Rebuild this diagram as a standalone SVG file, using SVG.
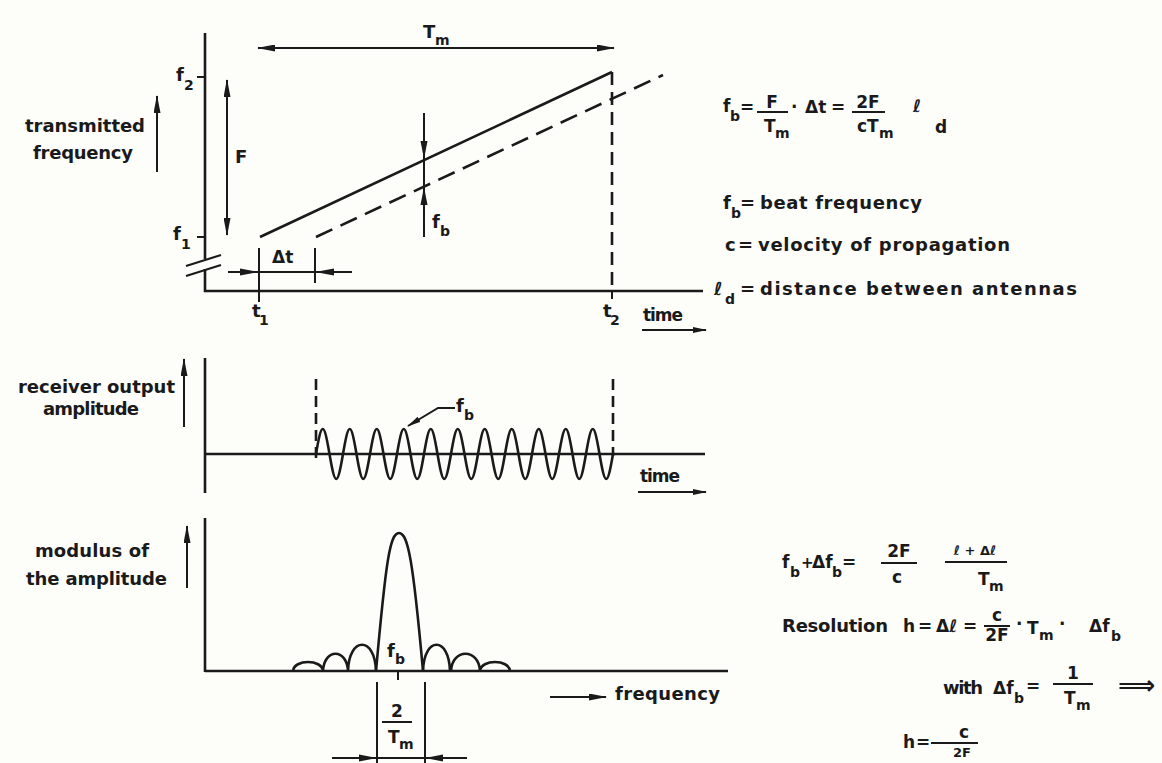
<svg xmlns="http://www.w3.org/2000/svg" width="1162" height="763" viewBox="0 0 1162 763">
<defs>
<style>
.t{font-family:"DejaVu Sans","Liberation Sans",sans-serif;font-weight:bold;font-size:18px;fill:#1a1a1a}
.f{font-family:"DejaVu Sans","Liberation Sans",sans-serif;font-weight:bold;font-size:17px;fill:#1a1a1a}
.s{font-family:"DejaVu Sans","Liberation Sans",sans-serif;font-weight:bold;font-size:14px;fill:#1a1a1a}
.ln{stroke:#1a1a1a;stroke-width:2.6;fill:none}
.th{stroke:#1a1a1a;stroke-width:2;fill:none}
.dash{stroke-dasharray:18 9}
.vd{stroke-dasharray:13 7}
.hd{fill:#1a1a1a;stroke:none}
</style>
<marker id="ah" viewBox="0 0 18 7" refX="17" refY="3.5" markerWidth="18" markerHeight="7" markerUnits="userSpaceOnUse" orient="auto-start-reverse"><path d="M0,0 L18,3.5 L0,7 z" fill="#1a1a1a"/></marker>
<marker id="as" viewBox="0 0 14 6" refX="13" refY="3" markerWidth="14" markerHeight="6" markerUnits="userSpaceOnUse" orient="auto"><path d="M0,0 L14,3 L0,6 z" fill="#1a1a1a"/></marker>
</defs>
<rect width="1162" height="763" fill="#fdfdfa"/>

<g id="plot-frequency">
<line class="ln" x1="205" y1="33" x2="205" y2="259"/>
<polyline class="ln" points="205,269 205,291 703,291"/>
<line class="th" x1="186" y1="266" x2="221" y2="255"/>
<line class="th" x1="186" y1="276" x2="221" y2="265"/>
<line class="th" x1="197" y1="77" x2="205" y2="77"/>
<line class="th" x1="197" y1="237" x2="205" y2="237"/>
<line class="th" x1="227" y1="80" x2="227" y2="235" marker-start="url(#ah)" marker-end="url(#ah)"/>
<line class="th" x1="258" y1="48" x2="614" y2="48" marker-start="url(#ah)" marker-end="url(#ah)"/>
<line class="ln" x1="260" y1="237" x2="612" y2="72"/>
<line class="ln dash" x1="316" y1="237" x2="663" y2="75"/>
<line class="ln vd" x1="612" y1="72" x2="612" y2="291"/>
<line class="th" x1="259" y1="248" x2="259" y2="302"/>
<line class="th" x1="612" y1="291" x2="612" y2="299"/>
<line class="th" x1="315" y1="248" x2="315" y2="283"/>
<line class="th" x1="228" y1="272" x2="352" y2="272"/>
<polygon class="hd" points="240,268.5 259,272 240,275.5"/>
<polygon class="hd" points="334,268.5 315,272 334,275.5"/>
<line class="th" x1="424" y1="113" x2="424" y2="237"/>
<polygon class="hd" points="420.5,141 424,159 427.5,141"/>
<polygon class="hd" points="420.5,205 424,187 427.5,205"/>
<line class="th" x1="157" y1="172" x2="157" y2="96" marker-end="url(#ah)"/>
<line class="th" x1="642" y1="330" x2="706" y2="330" marker-end="url(#as)"/>
<text class="t" x="25" y="132" textLength="120">transmitted</text>
<text class="t" x="33" y="159" textLength="100">frequency</text>
<text class="t" x="176" y="81">f</text><text class="s" x="184" y="90">2</text>
<text class="t" x="173" y="240">f</text><text class="s" x="181" y="249">1</text>
<text class="t" x="235" y="163">F</text>
<text class="t" x="423" y="38">T</text><text class="s" x="435" y="45">m</text>
<text class="f" x="272" y="263">Δt</text>
<text class="t" x="432" y="228">f</text><text class="s" x="440" y="236">b</text>
<text class="t" x="252" y="317">t</text><text class="s" x="259" y="325">1</text>
<text class="t" x="603" y="317">t</text><text class="s" x="610" y="325">2</text>
<text class="f" x="643" y="321" textLength="40">time</text>
</g>

<g id="legend-top">
<text class="f" x="723" y="112">f</text><text class="s" x="730" y="121">b</text>
<text class="f" x="740" y="113">=</text>
<text class="f" x="772" y="108" text-anchor="middle">F</text>
<line class="th" x1="757" y1="112" x2="788" y2="112"/>
<text class="f" x="764" y="132">T</text><text class="s" x="775" y="138">m</text>
<text class="f" x="791" y="113">·</text>
<text class="f" x="805" y="113">Δt</text>
<text class="f" x="831" y="113">=</text>
<text class="f" x="868" y="108" text-anchor="middle">2F</text>
<line class="th" x1="852" y1="112" x2="885" y2="112"/>
<text class="f" x="857" y="132">cT</text><text class="s" x="879" y="138">m</text>
<text class="f" x="913" y="112">ℓ</text>
<text class="f" x="935" y="133">d</text>

<text class="t" x="723" y="209">f</text><text class="s" x="731" y="218">b</text>
<text class="t" x="740" y="209">=</text>
<text class="t" x="760" y="209" textLength="162">beat frequency</text>
<text class="t" x="725" y="251">c</text>
<text class="t" x="738" y="251">=</text>
<text class="t" x="758" y="251" textLength="252">velocity of propagation</text>
<text class="t" x="714" y="295">ℓ</text><text class="s" x="725" y="304">d</text>
<text class="t" x="740" y="295">=</text>
<text class="t" x="760" y="295" textLength="317">distance between antennas</text>
</g>

<g id="plot-receiver">
<line class="ln" x1="205" y1="358" x2="205" y2="493"/>
<line class="ln" x1="205" y1="454" x2="705" y2="454"/>
<line class="ln" x1="316" y1="379" x2="316" y2="462" style="stroke-dasharray:11 6"/>
<line class="ln" x1="613" y1="379" x2="613" y2="456" style="stroke-dasharray:11 6"/>
<path class="ln" d="M316,454c5.7,-33.3 7.8,-33.3 13.5,0c5.7,33.3 7.8,33.3 13.5,0c5.7,-33.3 7.8,-33.3 13.5,0c5.7,33.3 7.8,33.3 13.5,0c5.7,-33.3 7.8,-33.3 13.5,0c5.7,33.3 7.8,33.3 13.5,0c5.7,-33.3 7.8,-33.3 13.5,0c5.7,33.3 7.8,33.3 13.5,0c5.7,-33.3 7.8,-33.3 13.5,0c5.7,33.3 7.8,33.3 13.5,0c5.7,-33.3 7.8,-33.3 13.5,0c5.7,33.3 7.8,33.3 13.5,0c5.7,-33.3 7.8,-33.3 13.5,0c5.7,33.3 7.8,33.3 13.5,0c5.7,-33.3 7.8,-33.3 13.5,0c5.7,33.3 7.8,33.3 13.5,0c5.7,-33.3 7.8,-33.3 13.5,0c5.7,33.3 7.8,33.3 13.5,0c5.7,-33.3 7.8,-33.3 13.5,0c5.7,33.3 7.8,33.3 13.5,0c5.7,-33.3 7.8,-33.3 13.5,0c5.7,33.3 7.8,33.3 13.5,0"/>
<path class="th" d="M455,408 L438,408 L408,426" marker-end="url(#as)"/>
<line class="th" x1="184" y1="427" x2="184" y2="359" marker-end="url(#ah)"/>
<line class="th" x1="638" y1="492" x2="706" y2="492" marker-end="url(#as)"/>
<text class="t" x="18" y="393" textLength="157">receiver output</text>
<text class="t" x="43" y="415" textLength="96">amplitude</text>
<text class="t" x="456" y="412">f</text><text class="s" x="464" y="420">b</text>
<text class="f" x="640" y="482" textLength="40">time</text>
</g>

<g id="plot-spectrum">
<line class="ln" x1="205" y1="518" x2="205" y2="672"/>
<line class="ln" x1="205" y1="671" x2="728" y2="671"/>
<path class="ln" d="M293,671 C294,659 322,659 323,671 M323,671 C324,648 347,648 348,671 M348,671 C349,636 375,636 376,671"/>
<path class="ln" d="M376,671 C386,560 390,533 399,533 C408,533 413,560 423,671"/>
<path class="ln" d="M423,671 C424,636 449,636 450,671 M451,671 C452,648 479,648 480,671 M480,671 C481,659 509,659 510,671"/>
<line class="th" x1="398" y1="671" x2="398" y2="680"/>
<line class="th" x1="377" y1="682" x2="377" y2="763"/>
<line class="th" x1="425" y1="682" x2="425" y2="763"/>
<line class="th" x1="332" y1="758" x2="467" y2="758"/>
<polygon class="hd" points="359,754.5 377,758 359,761.5"/>
<polygon class="hd" points="443,754.5 425,758 443,761.5"/>
<line class="th" x1="382" y1="722" x2="412" y2="722"/>
<text class="f" x="397" y="717" text-anchor="middle">2</text>
<text class="f" x="388" y="743">T</text><text class="s" x="399" y="749">m</text>
<text class="t" x="387" y="657">f</text><text class="s" x="395" y="664">b</text>
<line class="th" x1="187" y1="588" x2="187" y2="526" marker-end="url(#ah)"/>
<line class="th" x1="550" y1="697" x2="606" y2="697" marker-end="url(#ah)"/>
<text class="t" x="35" y="557" textLength="114">modulus of</text>
<text class="t" x="26" y="585" textLength="141">the amplitude</text>
<text class="t" x="615" y="700" textLength="105">frequency</text>
</g>

<g id="legend-bottom">
<text class="f" x="782" y="568">f</text><text class="s" x="790" y="577">b</text>
<text class="f" x="801" y="568" style="font-size:15px">+</text>
<text class="f" x="812" y="568">Δf</text><text class="s" x="832" y="577">b</text>
<text class="f" x="842" y="568">=</text>
<text class="f" x="899" y="557" text-anchor="middle">2F</text>
<line class="th" x1="881" y1="563" x2="917" y2="563"/>
<text class="f" x="897" y="583" text-anchor="middle">c</text>
<text class="f" x="975" y="555" text-anchor="middle" style="font-size:13px">ℓ + Δℓ</text>
<line class="th" x1="945" y1="562" x2="1007" y2="562"/>
<text class="f" x="978" y="585">T</text><text class="s" x="989" y="591">m</text>

<text class="t" x="782" y="632" textLength="106">Resolution</text>
<text class="f" x="903" y="632">h</text>
<text class="f" x="918" y="632">=</text>
<text class="f" x="936" y="632">Δℓ</text>
<text class="f" x="963" y="632">=</text>
<text class="f" x="997" y="621" text-anchor="middle">c</text>
<line class="th" x1="984" y1="626" x2="1010" y2="626"/>
<text class="f" x="997" y="641" text-anchor="middle">2F</text>
<text class="f" x="1016" y="630">·</text>
<text class="f" x="1027" y="634">T</text><text class="s" x="1039" y="640">m</text>
<text class="f" x="1059" y="630">·</text>
<text class="f" x="1089" y="632">Δf</text><text class="s" x="1111" y="641">b</text>

<text class="t" x="943" y="694" textLength="40">with</text>
<text class="f" x="993" y="694">Δf</text><text class="s" x="1014" y="703">b</text>
<text class="f" x="1026" y="692">=</text>
<text class="f" x="1073" y="679" text-anchor="middle">1</text>
<line class="th" x1="1053" y1="684" x2="1093" y2="684"/>
<text class="f" x="1064" y="704">T</text><text class="s" x="1076" y="710">m</text>
<text class="f" x="1118" y="694" style="font-size:26px" textLength="34">⟹</text>

<text class="f" x="903" y="748">h</text>
<text class="f" x="916" y="748">=</text>
<text class="f" x="964" y="738" text-anchor="middle">c</text>
<line class="th" x1="931" y1="743" x2="978" y2="743"/>
<text class="f" x="962" y="757" text-anchor="middle" style="font-size:13px">2F</text>
</g>
</svg>
